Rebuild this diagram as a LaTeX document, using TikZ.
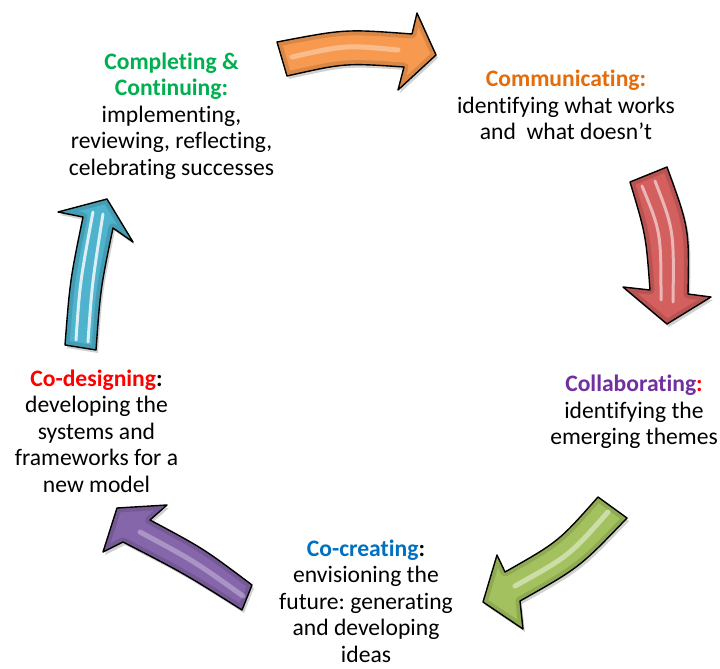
\documentclass[tikz,border=0pt]{standalone}
\usepackage{fontspec}
\setmainfont{Carlito}[Ligatures=NoCommon]
\frenchspacing
\definecolor{cgreen}{HTML}{00B050}
\definecolor{corange}{HTML}{E46C0A}
\definecolor{cpurple}{HTML}{7030A0}
\definecolor{cblue}{HTML}{0070C0}
\definecolor{cred}{HTML}{FF0000}
\definecolor{arrorange}{HTML}{F79A50}
\definecolor{arrred}{HTML}{D35F5E}
\definecolor{arrgreen}{HTML}{A3C25F}
\definecolor{arrpurple}{HTML}{8566AA}
\definecolor{arrblue}{HTML}{4FB3CE}
% arrow outlines (pixel coordinates, y downwards)
\def\orangepath{(277,42) .. controls (345,29) .. (412,34) -- (417,13) -- (436,55) -- (398,90) -- (404,67) .. controls (345,63) .. (287,76) -- cycle}
\def\redpath{(630,182) -- (667,167) .. controls (689.3,228.5) .. (688,294) -- (711,297) -- (667,324) -- (623,287) -- (650,290) .. controls (645.9,234.9) .. (630,182) -- cycle}
\def\greenpath{(598,497) -- (627,518) .. controls (579.6,567.4) .. (520,601) -- (523,629) -- (483,602) -- (497,555) -- (505,572) .. controls (558.4,541.7) .. (598,497) -- cycle}
\def\purplepath{(242,610) -- (252,585) .. controls (203.5,548.5) .. (150,520) -- (167,505) -- (117,508) -- (103,552) -- (123,542) .. controls (184,573.4) .. (242,610) -- cycle}
\def\bluepath{(65,345) .. controls (70,280.4) .. (83,217) -- (58,212) -- (107,199) -- (133,242) -- (113,228) .. controls (100.5,288.5) .. (96,350) -- cycle}
\tikzset{
  lbl/.style={anchor=base, inner sep=0pt, font=\fontsize{23.6}{26.5}\selectfont},
  arrowline/.style={draw=black, line width=1.4pt, line join=round},
  shine/.style={draw=white, opacity=0.55, line width=3pt, line cap=round},
}
\newcommand\glossarrow[2]{%
  \fill[black, opacity=0.18, shift={(2,3)}] #1;
  \fill[#2] #1;
  \begin{scope}
    \clip #1;
    \draw[#2!65!black, opacity=0.35, line width=9pt, line join=round] #1;
  \end{scope}
}
\begin{document}
\begin{tikzpicture}[x=1pt, y=-1pt]
\useasboundingbox (0,0) rectangle (720,669);
\fill[white] (0,0) rectangle (720,669);

% orange arrow
\glossarrow{\orangepath}{arrorange}
\draw[shine, opacity=0.35, line width=5pt] (292,57) .. controls (345,45) .. (398,50);
\draw[arrowline] \orangepath;

% red arrow
\glossarrow{\redpath}{arrred}
\draw[shine] (642,186) .. controls (661,232) .. (661,300);
\draw[shine] (655,181) .. controls (674,230) .. (673,302);
\draw[arrowline] \redpath;

% green arrow
\glossarrow{\greenpath}{arrgreen}
\draw[shine, line width=5pt, opacity=0.45] (608,512) .. controls (569,556) .. (515,586);
\draw[arrowline] \greenpath;

% purple arrow
\glossarrow{\purplepath}{arrpurple}
\draw[shine, opacity=0.3, line width=5pt] (243,596) .. controls (194,561) .. (140,532);
\draw[arrowline] \purplepath;

% blue arrow
\glossarrow{\bluepath}{arrblue}
\draw[shine, opacity=0.8] (76,340) .. controls (80,282) .. (93,212);
\draw[shine, opacity=0.8] (88,342) .. controls (92,284) .. (103,214);
\draw[arrowline] \bluepath;

% labels
\node[lbl] (completing) at (171.5,69.3) {\begin{tabular}[t]{@{}c@{}}{\bfseries\color{cgreen}Completing \&}\\ {\bfseries\color{cgreen}Continuing:}\\ implementing,\\ reviewing, reflecting,\\ celebrating successes\end{tabular}};
\node[lbl] (communicating) at (566,86.5) {\begin{tabular}[t]{@{}c@{}}{\bfseries\color{corange}Communicating:}\\ identifying what works\\ and\ \ what doesn’t\end{tabular}};
\node[lbl] (collaborating) at (634,391.5) {\begin{tabular}[t]{@{}c@{}}{\bfseries\color{cpurple}Collaborating\color{cred}:}\\ identifying the\\ emerging themes\end{tabular}};
\node[lbl] (cocreating) at (366,556) {\raisebox{0pt}[\height][\dimexpr\depth-8.5pt\relax]{\begin{tabular}[t]{@{}c@{}}{\bfseries\color{cblue}Co-creating\color{black}:}\\ envisioning the\\ future: generating\\ and developing\\ ideas\end{tabular}}};
\node[lbl] (codesigning) at (96.5,386) {\begin{tabular}[t]{@{}c@{}}{\bfseries\color{cred}Co-designing\color{black}:}\\ developing the\\ systems and\\ frameworks for a\\ new model\end{tabular}};
\end{tikzpicture}
\end{document}
